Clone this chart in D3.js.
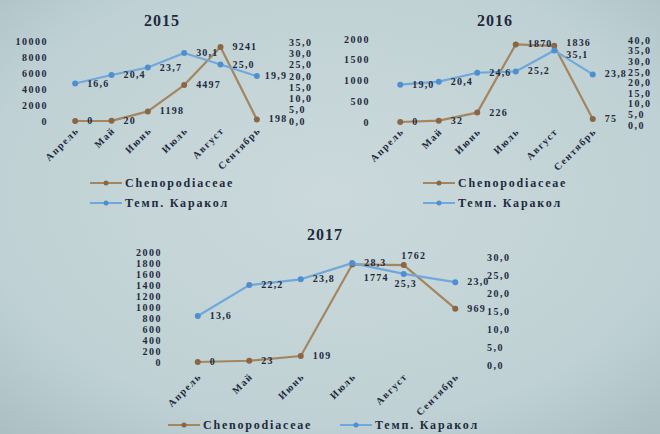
<!DOCTYPE html>
<html>
<head>
<meta charset="utf-8">
<script src="https://cdn.jsdelivr.net/npm/d3@7"></script>
<style>
  body { margin: 0; background: #bccfd2; }
  svg text { font-family: 'Liberation Serif', 'DejaVu Serif', serif; font-weight: bold; fill: #1f2a3e; }
</style>
</head>
<body>
<svg id="chart" width="660" height="434"></svg>
<script>
// data
const months = ['Апрель', 'Май', 'Июнь', 'Июль', 'Август', 'Сентябрь'];
const seriesNames = ['Chenopodiaceae', 'Темп. Каракол'];

const cheno2015 = [0, 20, 1198, 4497, 9241, 198];
const temp2015 = [16.6, 20.4, 23.7, 30.1, 25.0, 19.9];
const cheno2016 = [0, 32, 226, 1870, 1836, 75];
const temp2016 = [19.0, 20.4, 24.6, 25.2, 35.1, 23.8];
const cheno2017 = [0, 23, 109, 1774, 1762, 969];
const temp2017 = [13.6, 22.2, 23.8, 28.3, 25.3, 23.0];

const leftTicks2015 = [0, 2000, 4000, 6000, 8000, 10000];
const rightTicks2015 = [0, 5, 10, 15, 20, 25, 30, 35];
const leftTicks2016 = [0, 500, 1000, 1500, 2000];
const rightTicks2016 = [0, 5, 10, 15, 20, 25, 30, 35, 40];
const leftTicks2017 = [0, 200, 400, 600, 800, 1000, 1200, 1400, 1600, 1800, 2000];
const rightTicks2017 = [0, 5, 10, 15, 20, 25, 30];

const colors = { cheno: '#a3865f', chenoDot: '#8a6645', temp: '#70a8dc', tempDot: '#4f8fd0' };

const ru = d3.formatLocale({ decimal: ',', thousands: '', grouping: [3], currency: ['', ''] });
const f1 = ru.format('.1f');
const f0 = d3.format('d');

const svg = d3.select('#chart');

// photo-like backdrop
const defs = svg.append('defs');
const grad = defs.append('radialGradient').attr('id', 'bg').attr('cx', '50%').attr('cy', '45%').attr('r', '75%');
grad.append('stop').attr('offset', '0%').attr('stop-color', '#cbd9dc');
grad.append('stop').attr('offset', '70%').attr('stop-color', '#bfd1d4');
grad.append('stop').attr('offset', '100%').attr('stop-color', '#aabfc2');
svg.append('rect').attr('width', 660).attr('height', 434).attr('fill', 'url(#bg)');

// label offsets relative to the point: r = right, ru/rd = right and up/down, b = below, a = above
const place = {
    r: { dx: 12, dy: 3, anchor: 'start' },
    ru: { dx: 12, dy: 0, anchor: 'start' },
    rd: { dx: 12, dy: 8, anchor: 'start' },
    rs: { dx: 8, dy: 3, anchor: 'start' },
    b: { dx: 24, dy: 17, anchor: 'middle' },
    bt: { dx: 2, dy: 13, anchor: 'middle' },
    a: { dx: 10, dy: -6, anchor: 'middle' }
};

function drawChart(cfg) {
    const g = svg.append('g');
    const { title, cheno, temp, leftTicks, rightTicks } = cfg;

    const x = d3.scalePoint().domain(months).range(cfg.xRange).padding(0.5);
    const yL = d3.scaleLinear().domain([0, d3.max(leftTicks)]).range(cfg.yLeft);
    const yR = d3.scaleLinear().domain([0, d3.max(rightTicks)]).range(cfg.yRight);

    g.append('text')
        .attr('x', cfg.titleAt[0]).attr('y', cfg.titleAt[1])
        .attr('text-anchor', 'middle')
        .style('font-size', '16px')
        .style('letter-spacing', '1px')
        .text(title);

    // left axis, labels only
    const la = g.append('g')
        .attr('transform', `translate(${cfg.leftX},0)`)
        .call(d3.axisLeft(yL).tickValues(leftTicks).tickFormat(f0).tickSize(0).tickPadding(0));
    la.select('.domain').remove();

    // right axis
    const ra = g.append('g')
        .attr('transform', `translate(${cfg.rightX},0)`)
        .call(d3.axisRight(yR).tickValues(rightTicks).tickFormat(f1).tickSize(0).tickPadding(0));
    ra.select('.domain').remove();

    // month labels
    const xa = g.append('g')
        .attr('transform', `translate(0,${cfg.monthY})`)
        .call(d3.axisBottom(x).tickSize(0));
    xa.select('.domain').remove();
    xa.selectAll('text')
        .attr('x', 2).attr('y', 0).attr('dy', '0.35em')
        .attr('text-anchor', 'end')
        .attr('transform', 'rotate(-45)');

    g.selectAll('.tick text')
        .style('font-family', "'Liberation Serif', serif")
        .style('font-weight', 'bold')
        .style('font-size', '10px')
        .style('letter-spacing', '1.5px')
        .attr('fill', '#1f2a3e');

    const line = (y) => d3.line().x((d, i) => x(months[i])).y(d => y(d));

    const series = [
        { values: cheno, y: yL, color: colors.cheno, dot: colors.chenoDot, fmt: f0, pos: cfg.chenoPos },
        { values: temp, y: yR, color: colors.temp, dot: colors.tempDot, fmt: f1, pos: cfg.tempPos }
    ];

    series.forEach(s => {
        g.append('path')
            .datum(s.values)
            .attr('fill', 'none')
            .attr('stroke', s.color)
            .attr('stroke-width', 2.2)
            .attr('stroke-linejoin', 'round')
            .attr('d', line(s.y));

        g.selectAll(null)
            .data(s.values)
            .enter()
            .append('circle')
            .attr('cx', (d, i) => x(months[i]))
            .attr('cy', d => s.y(d))
            .attr('r', 3)
            .attr('fill', s.dot);

        g.selectAll(null)
            .data(s.values)
            .enter()
            .append('text')
            .each(function (d, i) {
                const p = place[(s.pos && s.pos[i]) || 'r'];
                d3.select(this)
                    .attr('x', x(months[i]) + p.dx)
                    .attr('y', s.y(d) + p.dy)
                    .attr('text-anchor', p.anchor);
            })
            .style('font-size', '10px')
            .style('letter-spacing', '1.2px')
            .text(d => s.fmt(d));
    });

    // legend
    const items = g.selectAll('.legend')
        .data(seriesNames)
        .enter()
        .append('g')
        .attr('class', 'legend')
        .attr('transform', (d, i) => `translate(${cfg.legend[i][0]},${cfg.legend[i][1]})`);

    items.append('line')
        .attr('x1', 0).attr('x2', 32)
        .attr('stroke', (d, i) => i ? colors.temp : colors.cheno)
        .attr('stroke-width', 2);
    items.append('circle')
        .attr('cx', 16).attr('r', 2.5)
        .attr('fill', (d, i) => i ? colors.tempDot : colors.chenoDot);
    items.append('text')
        .attr('x', 35).attr('dy', '0.35em')
        .style('font-size', '12px')
        .style('letter-spacing', '1.8px')
        .text(d => d);
}

drawChart({
    title: '2015', cheno: cheno2015, temp: temp2015,
    leftTicks: leftTicks2015, rightTicks: rightTicks2015,
    xRange: [57, 275], yLeft: [121, 41], yRight: [121, 42],
    leftX: 48, rightX: 289, monthY: 130, titleAt: [162, 26],
    tempPos: ['r', 'r', 'r', 'r', 'r', 'rs'],
    legend: [[90, 183], [90, 203]]
});

drawChart({
    title: '2016', cheno: cheno2016, temp: temp2016,
    leftTicks: leftTicks2016, rightTicks: rightTicks2016,
    xRange: [381, 612], yLeft: [122, 39], yRight: [125, 40],
    leftX: 370, rightX: 628, monthY: 131, titleAt: [495, 26],
    chenoPos: ['r', 'r', 'r', 'r', 'ru', 'r'],
    tempPos: ['r', 'r', 'r', 'r', 'rd', 'r'],
    legend: [[423, 183], [423, 203]]
});

drawChart({
    title: '2017', cheno: cheno2017, temp: temp2017,
    leftTicks: leftTicks2017, rightTicks: rightTicks2017,
    xRange: [172, 481], yLeft: [362, 252], yRight: [365, 257],
    leftX: 162, rightX: 487, monthY: 376, titleAt: [325, 240],
    chenoPos: ['r', 'r', 'r', 'b', 'a', 'r'],
    tempPos: ['r', 'r', 'r', 'r', 'bt', 'r'],
    legend: [[168, 425], [340, 425]]
});
</script>
</body>
</html>
